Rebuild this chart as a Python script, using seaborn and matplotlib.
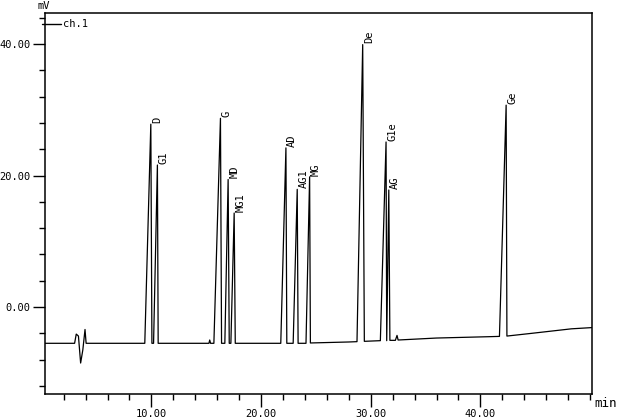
import numpy as np
import pandas as pd
import matplotlib
matplotlib.use("Agg")
import matplotlib.pyplot as plt
from matplotlib.ticker import MultipleLocator, FormatStrFormatter
import seaborn as sns

# chromatogram trace (retention time in min, signal in mV)
trace_min = [0.3, 3.0, 3.15, 3.35, 3.55, 3.75, 3.95, 4.05,
             9.4, 9.95, 10.05, 10.2, 10.55, 10.62,
             15.25, 15.32, 15.4, 15.7, 16.3, 16.4, 16.7, 17.0, 17.1, 17.25, 17.55, 17.65,
             21.8, 22.27, 22.35, 22.93, 23.3, 23.38, 24.1, 24.43, 24.5,
             28.0, 28.75, 29.27, 29.42, 30.88, 31.4, 31.46, 31.65, 31.75,
             32.25, 32.4, 32.5, 36.0, 40.7, 41.74, 42.35, 42.42, 44.6, 48.3, 50.3]
trace_mv = [-5.5, -5.5, -4.1, -4.4, -8.5, -6.5, -3.4, -5.5,
            -5.5, 27.8, -5.5, -5.5, 21.6, -5.5,
            -5.5, -5.0, -5.5, -5.5, 28.7, -5.5, -5.5, 19.4, -5.5, -5.5, 14.3, -5.5,
            -5.5, 24.2, -5.5, -5.5, 17.9, -5.5, -5.5, 19.8, -5.45,
            -5.3, -5.25, 39.9, -5.2, -5.1, 25.1, -5.1, 17.8, -5.05,
            -5.05, -4.3, -5.0, -4.7, -4.5, -4.45, 30.7, -4.4, -4.0, -3.3, -3.1]

# peak labels at the apexes
peak_names = ["D", "G1", "G", "MD", "MG1", "AD", "AG1", "MG", "De", "G1e", "AG", "Ge"]
peak_min = [9.95, 10.55, 16.3, 17.0, 17.55, 22.27, 23.3, 24.43, 29.27, 31.4, 31.65, 42.35]
peak_mv = [27.8, 21.6, 28.7, 19.4, 14.3, 24.2, 17.9, 19.8, 39.9, 25.1, 17.8, 30.7]

df = pd.DataFrame({"min": trace_min, "mV": trace_mv})

sns.set_style("ticks")
plt.rcParams["font.family"] = ["DejaVu Sans Mono", "DejaVu Sans"]
plt.rcParams["text.color"] = "black"
plt.rcParams["xtick.color"] = "black"
plt.rcParams["ytick.color"] = "black"

fig = plt.figure(figsize=(6.18, 4.2), dpi=100)
ax = fig.add_axes([0.0728, 0.062, 0.8855, 0.907])

sns.lineplot(data=df, x="min", y="mV", sort=False, estimator=None,
             color="black", lw=0.9, ax=ax)

for name, t, v in zip(peak_names, peak_min, peak_mv):
    ax.text(t + 0.12, v + 0.2, name, rotation=90, ha="left", va="bottom",
            fontsize=7.5, color="black")

ax.set_xlim(0.3, 50.2)
ax.set_ylim(-13.2, 44.7)
ax.xaxis.set_major_locator(MultipleLocator(10))
ax.xaxis.set_minor_locator(MultipleLocator(2))
ax.yaxis.set_major_locator(MultipleLocator(20))
ax.yaxis.set_minor_locator(MultipleLocator(4))
ax.xaxis.set_major_formatter(FormatStrFormatter("%.2f"))
ax.yaxis.set_major_formatter(FormatStrFormatter("%.2f"))
ax.set_xticks([10, 20, 30, 40])
ax.tick_params(axis="both", which="major", length=9, width=1, labelsize=7.5, pad=1.5,
               color="black", labelcolor="black")
ax.tick_params(axis="both", which="minor", length=4.5, width=1, color="black")
ax.set_xlabel("")
ax.set_ylabel("")
for sp in ax.spines.values():
    sp.set_visible(True)
    sp.set_linewidth(1.1)
    sp.set_color("black")

# channel marker at top left
ax.plot([-0.005, 0.03], [0.97, 0.97], transform=ax.transAxes, color="black",
        lw=1, clip_on=False)
ax.text(0.032, 0.97, "ch.1", transform=ax.transAxes, ha="left", va="center",
        fontsize=7.5, color="black")

fig.text(0.06, 0.997, "mV", ha="left", va="top", fontsize=7.5, color="black")
fig.text(0.962, 0.04, "min", ha="left", va="center", fontsize=9, color="black")

fig.savefig("out.png", dpi=100, facecolor="white")
